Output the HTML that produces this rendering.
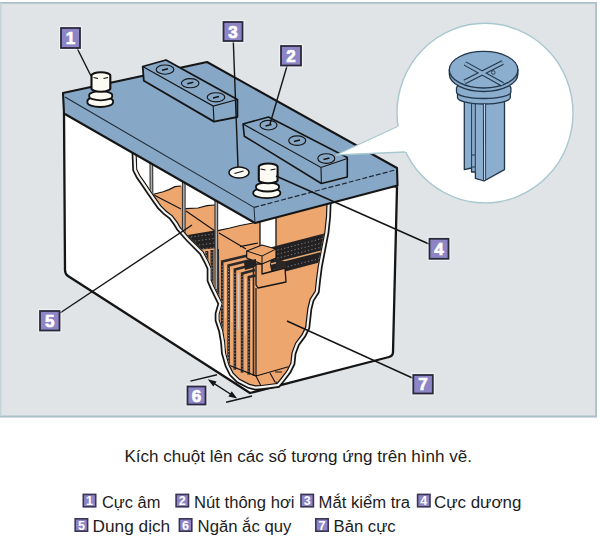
<!DOCTYPE html>
<html><head><meta charset="utf-8">
<style>
html,body{margin:0;padding:0;background:#fff;}
body{width:600px;height:545px;overflow:hidden;font-family:"Liberation Sans",sans-serif;}
svg{display:block;}
</style></head>
<body>
<svg width="600" height="545" viewBox="0 0 600 545" font-family="Liberation Sans, sans-serif">
<rect x="0" y="0" width="600" height="545" fill="#ffffff"/>
<!-- panel -->
<rect x="0" y="2" width="597" height="415.4" fill="#e0e4e7"/>
<path d="M0,2.9 L596.1,2.9 L596.1,416.5 L0,416.5" fill="none" stroke="#abc0c8" stroke-width="1.8"/>
<path d="M0.8,3 L0.8,416" stroke="#c6d5da" stroke-width="1.6"/>

<!-- battery body -->
<path d="M64,113 L65,270 Q65,274 68,276 L250,393 L389,357 Q393,356 393,352 L397,187 Z" fill="#ffffff" stroke="#151515" stroke-width="2.3" stroke-linejoin="round"/>

<!-- cutaway -->
<defs><clipPath id="cin"><path d="M136.7,148.5 L136.7,152.8 L137.4,169.3 L140.4,175.3 L145.3,182.3 L151.2,191.1 L156.4,198.5 L161.2,205.4 L166.6,210.7 L172.7,215.4 L177.7,222.1 L180.6,227.0 L184.8,231.9 L189.8,237.6 L203.5,251.3 L208.6,260.7 L211.8,267.9 L211.8,280.0 L214.3,285.9 L218.6,294.8 L222.8,303.5 L219.8,314.0 L219.8,319.9 L223.3,330.5 L225.3,342.1 L226.1,352.8 L229.6,364.7 L233.6,372.7 L239.7,378.8 L249.5,383.8 L255.5,385.3 L261.5,384.9 L269.3,383.9 L276.8,382.9 L280.8,378.1 L286.7,370.2 L290.3,363.0 L291.4,352.7 L295.1,342.9 L301.5,334.3 L305.1,327.1 L307.2,308.7 L309.5,299.1 L314.7,291.0 L315.9,279.4 L317.7,266.2 L324.3,232.2 L325.9,216.6 L326.4,202.9 L326.4,196.2 L252.2,210.3 Z"/></clipPath></defs>
<path d="M131.6,140.0 L131.6,152.9 L132.3,170.6 L136.0,177.9 L141.1,185.2 L147.0,194.0 L152.2,201.4 L157.3,208.7 L163.2,214.6 L169.0,219.0 L173.4,224.9 L176.4,230.0 L181.0,235.3 L186.1,241.1 L193.5,248.5 L199.4,254.4 L204.0,263.0 L206.7,269.0 L206.7,281.0 L209.6,288.0 L214.0,297.0 L217.4,304.0 L214.7,313.3 L214.7,320.7 L218.3,331.7 L220.2,342.7 L221.1,353.7 L224.8,366.6 L229.4,375.7 L236.7,383.0 L247.7,388.6 L255.0,390.4 L262.0,390.0 L270.0,389.0 L279.5,387.7 L284.8,381.3 L291.1,372.9 L295.3,364.4 L296.4,353.9 L299.6,345.4 L305.9,337.0 L310.1,328.6 L312.2,309.6 L314.3,301.1 L319.6,292.7 L321.0,280.0 L322.7,267.0 L326.0,250.0 L329.3,233.0 L331.0,217.0 L331.5,203.0 L331.5,190.0 L253.0,205.0 Z" fill="#151515"/>
<path d="M133.3,142.8 L133.3,152.9 L134.0,170.2 L137.5,177.0 L142.5,184.2 L148.4,193.0 L153.6,200.4 L158.6,207.6 L164.3,213.3 L170.2,217.8 L174.8,224.0 L177.8,229.0 L182.3,234.2 L187.3,239.9 L200.8,253.4 L205.5,262.2 L208.4,268.6 L208.4,280.7 L211.2,287.3 L215.5,296.3 L219.2,303.8 L216.4,313.5 L216.4,320.4 L220.0,331.3 L221.9,342.5 L222.8,353.4 L226.4,366.0 L230.8,374.7 L237.7,381.6 L248.3,387.0 L255.2,388.7 L261.8,388.3 L269.8,387.3 L278.6,386.1 L283.5,380.2 L289.6,372.0 L293.6,363.9 L294.7,353.5 L298.1,344.6 L304.4,336.1 L308.4,328.1 L310.5,309.3 L312.7,300.4 L318.0,292.1 L319.3,279.8 L321.0,266.7 L327.6,232.7 L329.3,216.9 L329.8,203.0 L329.8,192.1 L252.7,206.8 Z" fill="#f3f3f1"/>
<path d="M135.5,146.5 L135.5,152.8 L136.2,169.6 L139.4,175.9 L144.3,183.0 L150.2,191.8 L155.4,199.2 L160.3,206.2 L165.8,211.7 L171.8,216.2 L176.7,222.7 L179.6,227.7 L183.9,232.7 L188.9,238.4 L202.6,252.1 L207.5,261.3 L210.6,268.2 L210.6,280.2 L213.2,286.4 L217.5,295.3 L221.6,303.6 L218.6,313.9 L218.6,320.1 L222.1,330.8 L224.1,342.2 L225.0,353.0 L228.4,365.2 L232.6,373.4 L239.0,379.8 L249.1,384.9 L255.4,386.5 L261.6,386.1 L269.5,385.1 L277.5,384.0 L281.7,378.9 L287.8,370.8 L291.5,363.3 L292.6,353.0 L296.1,343.5 L302.6,334.9 L306.3,327.5 L308.4,308.9 L310.7,299.6 L315.8,291.4 L317.1,279.5 L318.8,266.4 L325.4,232.4 L327.1,216.7 L327.6,202.9 L327.6,194.7 L252.4,209.1 Z" fill="#151515"/>
<path d="M136.7,148.5 L136.7,152.8 L137.4,169.3 L140.4,175.3 L145.3,182.3 L151.2,191.1 L156.4,198.5 L161.2,205.4 L166.6,210.7 L172.7,215.4 L177.7,222.1 L180.6,227.0 L184.8,231.9 L189.8,237.6 L203.5,251.3 L208.6,260.7 L211.8,267.9 L211.8,280.0 L214.3,285.9 L218.6,294.8 L222.8,303.5 L219.8,314.0 L219.8,319.9 L223.3,330.5 L225.3,342.1 L226.1,352.8 L229.6,364.7 L233.6,372.7 L239.7,378.8 L249.5,383.8 L255.5,385.3 L261.5,384.9 L269.3,383.9 L276.8,382.9 L280.8,378.1 L286.7,370.2 L290.3,363.0 L291.4,352.7 L295.1,342.9 L301.5,334.3 L305.1,327.1 L307.2,308.7 L309.5,299.1 L314.7,291.0 L315.9,279.4 L317.7,266.2 L324.3,232.2 L325.9,216.6 L326.4,202.9 L326.4,196.2 L252.2,210.3 Z" fill="#eea66f"/>
<g clip-path="url(#cin)">
<!-- white air spaces -->
<path d="M125,140 L125,200 L150,196 L154.4,194 L163.2,191.8 L169,189.6 L174.9,186.7 L181,186 L184,186 L184,170 Z" fill="#ffffff"/>
<path d="M185,175 L185,208.6 L198,208 L207,205.7 L215,205 L215,190 Z" fill="#ffffff"/>
<path d="M218,195 L218,230.6 L230,228 L240,225.5 L253,223 L253,210 Z" fill="#ffffff"/>
<rect x="260" y="215" width="16" height="32" fill="#ffffff"/>
<path d="M260,218 L260,247 M276,217 L276,247" stroke="#151515" stroke-width="1.3"/>
<!-- electrolyte level / separator lines -->
<g fill="none" stroke="#151515" stroke-width="1.2">
<path d="M150,196 L154.4,194 L163.2,191.8 L169,189.6 L174.9,186.7 L181,186"/>
<path d="M185.5,208.6 L198,208 L207,205.7 L215,205"/>
<path d="M218,230.6 L230,228 L240,225.5 L253,223"/>
<path d="M152,194 L181,209 M186,211 L215,231 M219,233 L246,249"/>
<path d="M240,246.7 L258,243"/>
</g>
<!-- left grid band -->
<path d="M176,237 L214.3,230.6 L218,231 L218,256 L202,259 L190,250 Z" fill="#242122"/>
<g stroke="#86868c" stroke-width="0.9" fill="none" stroke-dasharray="1.3 2.2">
<path d="M184,238 L214,234 M188,242 L214,238.5 M192,246 L214,243 M196,249.5 L214,247.5 M200,253.5 L214,252"/>
</g>
<!-- back plates -->
<path d="M196,250 L218,248 L221,258 L221,320 L210,320 L200,260 Z" fill="#eea66f"/>
<g stroke="#2a2729" stroke-width="3" fill="none">
<path d="M201.5,252 L204.5,300 M206.8,251 L207.8,310 M212,250 L212,320 M217.5,249 L218,320"/>
</g>
<g stroke="#8e9097" stroke-width="0.9" fill="none" stroke-dasharray="1 2.2">
<path d="M206.5,252 L207.5,310 M212,252 L212,320 M217.5,251 L218,320"/>
</g>
<!-- front plates -->
<path d="M219,262 L220,259 L250,252 L256,256 L256,376 L226,364 L215,330 L221,305 Z" fill="#eea66f"/>
<g fill="none" stroke="#2a2729" stroke-width="2.6">
<path d="M222.2,366 L222.2,261.5 L252,254.5"/>
<path d="M228.6,368 L228.6,265.5 L253,259.5"/>
<path d="M234.9,370 L234.9,269.5 L254,264.5"/>
<path d="M242.1,373 L242.1,273.5 L255,270"/>
<path d="M248.8,375 L248.8,277 L255.5,275.5"/>
</g>
<g fill="none" stroke="#8e9097" stroke-width="1" stroke-dasharray="1.2 2">
<path d="M222.2,366 L222.2,264 M228.6,368 L228.6,268 M234.9,370 L234.9,272 M242.1,373 L242.1,276 M248.8,375 L248.8,280"/>
</g>
<g fill="none" stroke="#d9d2c8" stroke-width="1.1" opacity="0.8">
<path d="M225.5,266 L225.5,318 M231.8,270 L231.8,322 M238.5,274 L238.5,330 M245.4,278 L245.4,335 M251.6,281 L251.6,330"/>
</g>
<path d="M253.5,256 L253.5,376" stroke="#2a2729" stroke-width="1.6"/>
<path d="M226,364 L256,376" stroke="#151515" stroke-width="1.3"/>
<!-- right grid band -->
<path d="M272,247 L330,232 L330,258 L321,262 L272,275 L270,265 Z" fill="#242122"/>
<g stroke="#86868c" stroke-width="0.9" fill="none" stroke-dasharray="1.3 2.2">
<path d="M274,251 L328,237 M274,255 L328,241.5 M274,259 L328,245.5 M274,270 L326,257"/>
</g>
<path d="M271,264 L328,249.5" stroke="#e7ab78" stroke-width="1.5" fill="none"/>
<!-- connector block & T bar -->
<path d="M246.7,251 L262,245 L276,249 L276,258 L262,264 L246.7,258 Z" fill="#eea66f" stroke="#151515" stroke-width="1.2" stroke-linejoin="round"/>
<path d="M246.7,251 L262,256 L276,249 M262,256 L262,264" fill="none" stroke="#151515" stroke-width="1"/>
<path d="M256,264 L262,264 L262,274 L285,268 L286,282 L258,288 L256,285 Z" fill="#eea66f" stroke="#151515" stroke-width="1.3" stroke-linejoin="round"/>
<path d="M276,258 L276,270 L285,268 L286,262 Z" fill="#2b2725"/>
<path d="M244,262 L256,259 L256,266 L252,268 L245,270 Z" fill="#242122"/>
<!-- front plate outline -->
<path d="M256,288 L256,376 L291,366" fill="none" stroke="#151515" stroke-width="1.2"/>
<!-- bottom sediment -->
<path d="M226,368 L240,385 M256,376 L262,388 M270,373 L275,382 L282,383 M275,372 L282,372" fill="none" stroke="#151515" stroke-width="1.1"/>
<!-- rods -->
<g fill="none">
<path d="M151.3,160 L151.5,194 M183.8,178 L183.8,235 M216.3,195 L216.3,290" stroke="#3a3a3a" stroke-width="3.8"/>
<path d="M151.3,160 L151.5,193 M183.8,178 L183.8,234 M216.3,195 L216.3,289" stroke="#b0b0b0" stroke-width="1.5"/>
</g>
</g>

<!-- bubble -->
<ellipse cx="485" cy="113.1" rx="88" ry="89.8" fill="#ffffff" stroke="#a8c8cf" stroke-width="1.4"/>

<!-- lid -->
<path d="M63,93 L207,62 L397,168 L397.5,185.5 L255,223 L64,113.5 Z" fill="#87a7c6" stroke="#151515" stroke-width="2.1" stroke-linejoin="round"/>
<path d="M65,97 L254,207.4" fill="none" stroke="#1f2a36" stroke-width="1.1"/>
<path d="M254,207.4 L397,169.5" fill="none" stroke="#1f2a36" stroke-width="1.2" stroke-dasharray="5 2"/>
<path d="M254,207.4 L255,223" fill="none" stroke="#1f2a36" stroke-width="1"/>

<!-- strip 1 -->
<path d="M142.7,66.5 L166,60 L237.4,99.5 L237.4,117 L214,121.6 L143.8,80.8 Z" fill="#87a7c6" stroke="#151515" stroke-width="1.8" stroke-linejoin="round"/>
<path d="M142.7,66.5 L213.2,106.1 L237.4,99.5 M213.2,106.1 L214,121.6" fill="none" stroke="#151515" stroke-width="1.1"/>
<!-- strip 2 -->
<path d="M243,124 L268.5,117 L347.3,157.5 L347.3,177 L321.4,183.5 L244.3,136.2 Z" fill="#87a7c6" stroke="#151515" stroke-width="1.6" stroke-linejoin="round"/>
<path d="M243,124 L321,167.5 L347.3,158.5 M321,167.5 L321.4,183.5" fill="none" stroke="#151515" stroke-width="1.1"/>
<!-- screws -->
<g fill="none" stroke="#151515" stroke-width="1.15">
<ellipse cx="165" cy="69.6" rx="8.8" ry="4.6"/>
<ellipse cx="190.2" cy="83.2" rx="8.8" ry="4.6"/>
<ellipse cx="216" cy="97.3" rx="8.8" ry="4.6"/>
<ellipse cx="268.5" cy="125.2" rx="8.5" ry="4.8"/>
<ellipse cx="297.2" cy="140.6" rx="8.5" ry="4.8"/>
<ellipse cx="326.3" cy="158.5" rx="8.5" ry="4.8"/>
</g>
<g fill="none" stroke="#151515" stroke-width="1.4">
<path d="M162,70.3 L168,68.8 M187.3,83.7 L193.3,82.2 M213,98 L219,96.5 M265.5,126 L271.5,124.5 M294,141.5 L300,140 M323.5,159.5 L329.5,158"/>
</g>

<!-- bubble wedge -->
<path d="M336,155 L397.5,126.5 L410,126 L412,152 L405,152 Z" fill="#ffffff"/>
<path d="M336,155 L397.5,126.5 M336,155 L405,152" fill="none" stroke="#a8c8cf" stroke-width="1.3"/>

<!-- vent cap -->
<ellipse cx="239" cy="172.5" rx="10" ry="5.5" fill="#fbfbf6" stroke="#151515" stroke-width="1.5"/>
<path d="M234.5,173.5 L243.5,171" stroke="#151515" stroke-width="1.2"/>

<!-- terminal 1 -->
<g stroke="#111" stroke-width="1.8" fill="#fbfbf3">
<path d="M87.4,101 L87.4,102.5 a12.8,4.5 0 0 0 25.6,0 L113,101 a12.8,4.5 0 0 0 -25.6,0 Z"/>
<path d="M89.2,95 L89.2,96.5 a11.5,3.8 0 0 0 23,0 L112.2,95 a11.5,3.8 0 0 0 -23,0 Z"/>
<path d="M91.5,75.5 L91.5,88.5 a9.4,3.2 0 0 0 18.8,0 L110.3,75.5 a9.4,3.3 0 0 0 -18.8,0 Z" stroke-width="2.1"/>
</g>
<path d="M93.5,77.5 L98,78.5 M103.5,78.5 L108,77.5" fill="none" stroke="#111" stroke-width="1.1"/>
<!-- terminal 2 -->
<g stroke="#111" stroke-width="1.8" fill="#fbfbf3">
<path d="M253.3,192.5 L253.3,193.5 a13.5,4.6 0 0 0 27,0 L280.3,192.5 a13.5,4.6 0 0 0 -27,0 Z"/>
<path d="M256,186.5 L256,187.5 a11.5,4 0 0 0 23,0 L279,186.5 a11.5,4 0 0 0 -23,0 Z"/>
<path d="M258.8,167 L258.8,180 a9.4,3.3 0 0 0 18.8,0 L277.6,167 a9.4,3.5 0 0 0 -18.8,0 Z" stroke-width="2.1"/>
</g>
<path d="M260.5,169 L265.5,170 M270.5,170 L275.5,169" fill="none" stroke="#111" stroke-width="1.1"/>

<!-- vent plug in bubble -->
<g stroke="#22364a" stroke-width="1.3" fill="#8badce" stroke-linejoin="round">
<path d="M464.3,100 L504.5,100 L504.5,169.6 L484,181 L475.4,178.4 L475.4,172 L471.5,172 L471.5,168 L464.3,169.6 Z"/>
<path d="M457.5,93 L457.5,97.5 a26.4,6.5 0 0 0 52.8,0 L510.3,93 a26.4,6.5 0 0 0 -52.8,0 Z"/>
<path d="M456.5,88 L456.5,92 a27.2,6.5 0 0 0 54.4,0 L510.9,88 a27.2,6.5 0 0 0 -54.4,0 Z"/>
<path d="M449.3,70 L449.3,74 a34.3,17.5 0 0 0 68.6,0 L517.9,70 Z"/>
<ellipse cx="483.6" cy="69.7" rx="34.3" ry="18.3"/>
</g>
<g stroke="#22364a" stroke-width="1" fill="none">
<path d="M483.4,104 L483.6,180.5 M485.6,104 L485.6,180 M471.6,104 L471.6,168 M475.3,104 L475.3,172"/>
<path d="M471.6,155 L475.3,155 M471.6,167 L475.3,167"/>
</g>
<path d="M484.5,104 L484.6,180" stroke="#b9d0e6" stroke-width="1.1"/>
<g fill="none" stroke-linecap="butt">
<path d="M465,63.5 L502.7,84.3 M464.5,82 L502.7,62.5" stroke="#22364a" stroke-width="4.8"/>
<path d="M465,63.5 L502.7,84.3 M464.5,82 L502.7,62.5" stroke="#8badce" stroke-width="2.6"/>
</g>
<circle cx="493.3" cy="72.5" r="1.8" fill="none" stroke="#22364a" stroke-width="0.9"/>

<!-- leader lines -->
<g stroke="#151515" stroke-width="1.4" fill="none">
<path d="M77,48 L91,76"/>
<path d="M233.3,41 L238,167"/>
<path d="M287,66 L270,124"/>
<path d="M276,176 L429,244"/>
<path d="M60,313 L192,225"/>
<path d="M412.5,378 L287,321"/>
<path d="M190.4,381.1 L217,374.7 M226.1,402.2 L252,396 M210,380.8 L235,397"/>
</g>

<path d="M207.8,379.3 L213.3,386.5 L216.6,381.4 Z M237.2,398.5 L228.4,396.4 L231.7,391.3 Z" fill="#151515"/>
<!-- labels -->
<g font-weight="bold" font-size="17" fill="#ffffff" text-anchor="middle" stroke="#ffffff" stroke-width="0.7">
<rect x="58.8" y="25.8" width="23.4" height="24.4" fill="#ffffff" fill-opacity="0.45" stroke="none"/>
<rect x="61" y="28" width="19" height="20" fill="#8d85c6" stroke="#2b2a3c" stroke-width="1.8"/>
<text x="70.5" y="44.2">1</text>
<rect x="221.3" y="19.8" width="23.4" height="23.4" fill="#ffffff" fill-opacity="0.45" stroke="none"/>
<rect x="223.5" y="22" width="19" height="19" fill="#8d85c6" stroke="#2b2a3c" stroke-width="1.8"/>
<text x="233.0" y="37.7">3</text>
<rect x="278.8" y="43.8" width="24.4" height="23.9" fill="#ffffff" fill-opacity="0.45" stroke="none"/>
<rect x="281" y="46" width="20" height="19.5" fill="#8d85c6" stroke="#2b2a3c" stroke-width="1.8"/>
<text x="291.0" y="62.0">2</text>
<rect x="427.3" y="236.6" width="23.4" height="24.4" fill="#ffffff" fill-opacity="0.45" stroke="none"/>
<rect x="429.5" y="238.8" width="19" height="20" fill="#8d85c6" stroke="#2b2a3c" stroke-width="1.8"/>
<text x="439.0" y="255.0">4</text>
<rect x="37.8" y="308.8" width="23.9" height="23.9" fill="#ffffff" fill-opacity="0.45" stroke="none"/>
<rect x="40" y="311" width="19.5" height="19.5" fill="#8d85c6" stroke="#2b2a3c" stroke-width="1.8"/>
<text x="49.8" y="326.9">5</text>
<rect x="185.3" y="384.3" width="22.4" height="22.4" fill="#ffffff" fill-opacity="0.45" stroke="none"/>
<rect x="187.5" y="386.5" width="18" height="18" fill="#8d85c6" stroke="#2b2a3c" stroke-width="1.8"/>
<text x="196.5" y="401.7">6</text>
<rect x="411.1" y="372.8" width="23.9" height="22.9" fill="#ffffff" fill-opacity="0.45" stroke="none"/>
<rect x="413.3" y="375" width="19.5" height="18.5" fill="#8d85c6" stroke="#2b2a3c" stroke-width="1.8"/>
<text x="423.1" y="390.4">7</text>
</g>

<!-- caption + legend -->
<text x="124.5" y="461.6" font-size="16" fill="#1c1c1c" textLength="347.5" lengthAdjust="spacingAndGlyphs">Kích chuột lên các số tương ứng trên hình vẽ.</text>
<g font-weight="bold" font-size="12.5" fill="#fff" text-anchor="middle">
<rect x="83.3" y="494.4" width="12.4" height="12.4" fill="#8d85c6" stroke="#3a3552" stroke-width="1.6"/><text x="89.5" y="505.2">1</text>
<rect x="176.1" y="494.4" width="12.4" height="12.4" fill="#8d85c6" stroke="#3a3552" stroke-width="1.6"/><text x="182.3" y="505.2">2</text>
<rect x="301.0" y="494.4" width="12.4" height="12.4" fill="#8d85c6" stroke="#3a3552" stroke-width="1.6"/><text x="307.2" y="505.2">3</text>
<rect x="417.6" y="494.4" width="12.4" height="12.4" fill="#8d85c6" stroke="#3a3552" stroke-width="1.6"/><text x="423.8" y="505.2">4</text>
<rect x="75.2" y="518.8" width="12.4" height="12.4" fill="#8d85c6" stroke="#3a3552" stroke-width="1.6"/><text x="81.4" y="529.6">5</text>
<rect x="179.4" y="518.8" width="12.4" height="12.4" fill="#8d85c6" stroke="#3a3552" stroke-width="1.6"/><text x="185.6" y="529.6">6</text>
<rect x="315.8" y="518.8" width="12.4" height="12.4" fill="#8d85c6" stroke="#3a3552" stroke-width="1.6"/><text x="322.0" y="529.6">7</text>
</g>
<g font-size="16" fill="#1c1c1c">
<text x="101.9" y="507.5" textLength="58.5" lengthAdjust="spacingAndGlyphs">Cực âm</text>
<text x="194.1" y="507.5" textLength="100.4" lengthAdjust="spacingAndGlyphs">Nút thông hơi</text>
<text x="318.6" y="507.5" textLength="91.5" lengthAdjust="spacingAndGlyphs">Mắt kiểm tra</text>
<text x="434" y="507.5" textLength="87.3" lengthAdjust="spacingAndGlyphs">Cực dương</text>
<text x="92.6" y="531.7" textLength="77.6" lengthAdjust="spacingAndGlyphs">Dung dịch</text>
<text x="197.6" y="531.7" textLength="93.7" lengthAdjust="spacingAndGlyphs">Ngăn ắc quy</text>
<text x="333.6" y="531.7" textLength="62.1" lengthAdjust="spacingAndGlyphs">Bản cực</text>
</g>

</svg>
</body></html>
